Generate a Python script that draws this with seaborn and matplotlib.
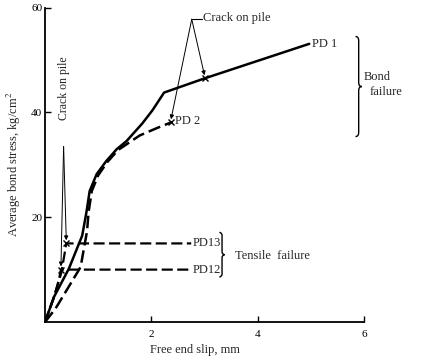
import numpy as np
import pandas as pd
import matplotlib
matplotlib.use("Agg")
import matplotlib.pyplot as plt
from matplotlib.path import Path
from matplotlib.patches import PathPatch
import seaborn as sns

# Load–slip curves (free end slip in mm, average bond stress in kg/cm^2)
pd1_slip = [0, 0.17, 0.45, 0.70, 0.78, 0.84, 0.97, 1.15, 1.35, 1.53, 1.83, 2.02, 2.24, 3.00, 4.97]
pd1_stress = [0, 4.8, 10.2, 16.5, 21.0, 25.0, 28.2, 30.7, 33.0, 34.5, 37.9, 40.4, 43.8, 46.5, 53.1]

pd2_slip = [0, 0.20, 0.48, 0.67, 0.79, 0.82, 0.88, 1.00, 1.17, 1.37, 1.78, 2.10, 2.37]
pd2_stress = [0, 2.6, 7.3, 10.5, 17.3, 21.0, 25.0, 28.0, 30.5, 32.8, 35.6, 37.0, 38.1]

pd12_slip = [0, 0.17, 0.26, 0.30, 2.75]
pd12_stress = [0, 4.8, 8.0, 10.0, 10.0]

pd13_slip = [0, 0.17, 0.31, 0.40, 2.75]
pd13_stress = [0, 4.8, 9.5, 15.0, 15.0]

# Points where the pile cracked
crack_upper_slip = [3.00, 2.37]
crack_upper_stress = [46.5, 38.1]
crack_lower_slip = [0.30, 0.40]
crack_lower_stress = [10.0, 15.0]

x_ticks = [2, 4, 6]
y_ticks = [20, 40, 60]

sns.set_theme(style="ticks")
plt.rcParams["font.family"] = ["Liberation Serif", "DejaVu Serif"]
plt.rcParams["mathtext.fontset"] = "stix"

fig = plt.figure(figsize=(4.22, 3.58), dpi=100)
ax = fig.add_axes([45 / 422, 1 - 322 / 358, (364 - 45) / 422, (322 - 7.7) / 358])

dash = (0, (5, 2))
sns.lineplot(x=pd1_slip, y=pd1_stress, sort=False, estimator=None, ax=ax,
             color="black", linewidth=1.8)
sns.lineplot(x=pd2_slip, y=pd2_stress, sort=False, estimator=None, ax=ax,
             color="black", linewidth=1.8, linestyle=dash)
sns.lineplot(x=pd12_slip, y=pd12_stress, sort=False, estimator=None, ax=ax,
             color="black", linewidth=1.6, linestyle=dash)
sns.lineplot(x=pd13_slip, y=pd13_stress, sort=False, estimator=None, ax=ax,
             color="black", linewidth=1.6, linestyle=dash)

ax.plot(crack_upper_slip, crack_upper_stress, "x", color="black", ms=4, mew=1)
ax.plot(crack_lower_slip, crack_lower_stress, "x", color="black", ms=4, mew=1)

ax.set_xlim(0, 6)
ax.set_ylim(0, 60)
ax.set_xticks(x_ticks)
ax.set_yticks(y_ticks)
ax.tick_params(direction="in", length=4, width=1, labelsize=8, colors="black", pad=2)
ax.tick_params(axis="x", pad=6)
for s in ["top", "right"]:
    ax.spines[s].set_visible(False)
for s in ["left", "bottom"]:
    ax.spines[s].set_linewidth(1.3)
    ax.spines[s].set_color("black")

ax.set_ylabel("Average bond stress, kg/cm$^2$", fontsize=9)
ax.yaxis.set_label_coords(-0.068, 0.5)
ax.set_xlabel("Free end slip, mm", fontsize=9, va="center")
ax.xaxis.set_label_coords(0.47, -0.089)

# Curve labels
ax.text(5.02, 53.1, "PD 1", fontsize=9, va="center", ha="left")
ax.text(2.45, 38.3, "PD 2", fontsize=9, va="center", ha="left")
ax.text(2.77, 15.0, "PD13", fontsize=9, va="center", ha="left")
ax.text(2.77, 10.0, "PD12", fontsize=9, va="center", ha="left")

# Crack annotations
apex = (2.76, 57.8)
ax.plot([apex[0], apex[0] + 0.2], [apex[1], apex[1]], color="black", lw=0.8)
ax.text(apex[0] + 0.22, apex[1] + 0.2, "Crack on pile", fontsize=9, va="center", ha="left")
for xs, ys in zip(crack_upper_slip, crack_upper_stress):
    ax.annotate("", xy=(xs, ys + 0.6), xytext=apex,
                arrowprops=dict(arrowstyle="-|>", color="black", lw=0.7,
                                mutation_scale=6, shrinkA=0, shrinkB=0))

apex2 = (0.35, 33.5)
ax.text(apex2[0], 38.5, "Crack on pile", fontsize=8.5, rotation=90,
        va="bottom", ha="center")
for xs, ys in zip(crack_lower_slip, crack_lower_stress):
    ax.annotate("", xy=(xs, ys + 0.6), xytext=apex2,
                arrowprops=dict(arrowstyle="-|>", color="black", lw=0.7,
                                mutation_scale=6, shrinkA=0, shrinkB=0))


def brace(ax, x, y0, y1, w, d):
    """Right-facing curly brace spanning y0..y1 at x."""
    ym = (y0 + y1) / 2
    verts = [(x - w, y1), (x, y1), (x, y1 - d),
             (x, ym + d), (x, ym), (x + w, ym),
             (x, ym), (x, ym - d),
             (x, y0 + d), (x, y0), (x - w, y0)]
    codes = [Path.MOVETO, Path.CURVE3, Path.CURVE3,
             Path.LINETO, Path.CURVE3, Path.CURVE3,
             Path.CURVE3, Path.CURVE3,
             Path.LINETO, Path.CURVE3, Path.CURVE3]
    ax.add_patch(PathPatch(Path(verts, codes), fill=False, lw=1.0,
                           color="black", clip_on=False))


brace(ax, 5.9, 35.4, 54.5, 0.06, 0.8)
ax.text(6.0, 46.8, "Bond", fontsize=9, va="center", ha="left", clip_on=False)
ax.text(6.1, 44.0, "failure", fontsize=9, va="center", ha="left", clip_on=False)

brace(ax, 3.33, 8.6, 17.1, 0.05, 0.6)
ax.text(3.58, 12.6, "Tensile  failure", fontsize=9, va="center", ha="left")

fig.savefig("out.png", dpi=100)
